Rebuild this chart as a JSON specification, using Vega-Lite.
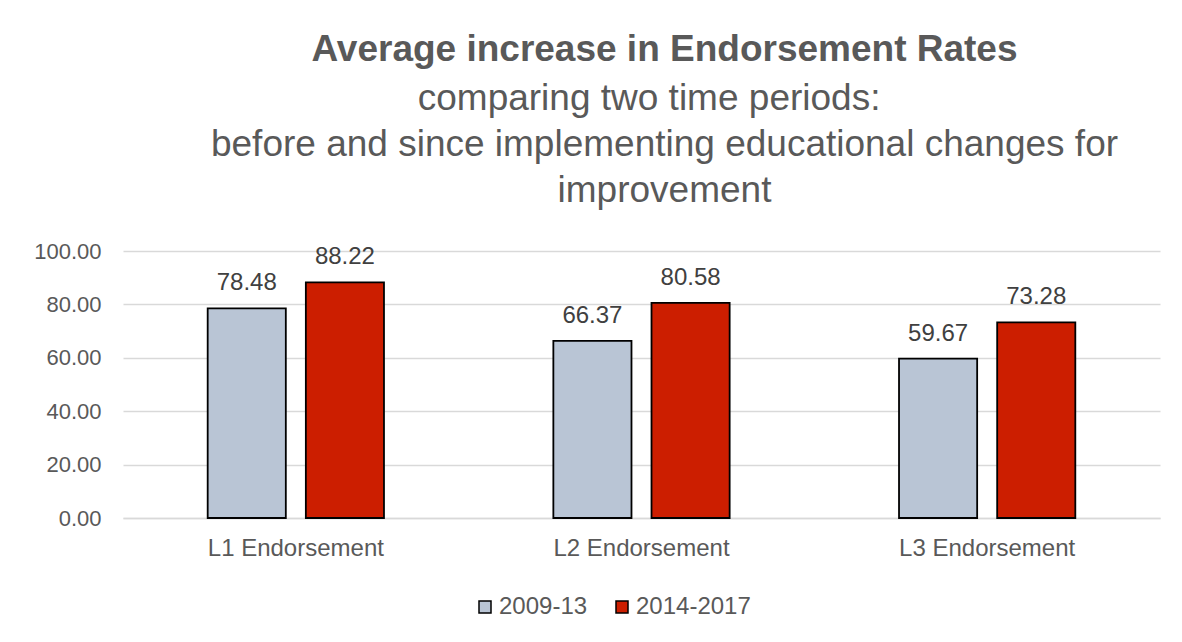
{
  "$schema": "https://vega.github.io/schema/vega-lite/v6.json",
  "width": 1037,
  "height": 267,
  "autosize": {"type": "none"},
  "padding": {"left": 123, "top": 251, "right": 22, "bottom": 124},
  "background": "white",
  "title": {
    "text": "Average increase in Endorsement Rates",
    "subtitle": ["comparing two time periods:\u00a0\u00a0\u00a0\u200b", "before and since implementing educational changes for", "improvement"],
    "anchor": "middle",
    "frame": "group",
    "dx": 23,
    "offset": 30,
    "font": "Liberation Sans",
    "fontSize": 37,
    "fontWeight": "bold",
    "color": "#595959",
    "subtitleFont": "Liberation Sans",
    "subtitleFontSize": 37,
    "subtitleColor": "#595959",
    "subtitleLineHeight": 46,
    "subtitlePadding": 12
  },
  "data": {
    "values": [
      {"category": "L1 Endorsement", "period": "2009-13", "value": 78.48},
      {"category": "L1 Endorsement", "period": "2014-2017", "value": 88.22},
      {"category": "L2 Endorsement", "period": "2009-13", "value": 66.37},
      {"category": "L2 Endorsement", "period": "2014-2017", "value": 80.58},
      {"category": "L3 Endorsement", "period": "2009-13", "value": 59.67},
      {"category": "L3 Endorsement", "period": "2014-2017", "value": 73.28}
    ]
  },
  "encoding": {
    "x": {
      "field": "category",
      "type": "nominal",
      "scale": {"paddingInner": 0.49, "paddingOuter": 0.245},
      "axis": {
        "title": null,
        "labelAngle": 0,
        "labelFont": "Liberation Sans",
        "labelFontSize": 24,
        "labelColor": "#595959",
        "labelPadding": 18,
        "ticks": false,
        "domainColor": "#D9D9D9",
        "domainWidth": 1.5,
        "grid": false
      }
    },
    "xOffset": {
      "field": "period",
      "type": "nominal",
      "scale": {"paddingInner": 0.204, "paddingOuter": 0}
    },
    "y": {
      "field": "value",
      "type": "quantitative",
      "scale": {"domain": [0, 100]},
      "axis": {
        "title": null,
        "values": [0, 20, 40, 60, 80, 100],
        "format": ".2f",
        "labelFont": "Liberation Sans",
        "labelFontSize": 22,
        "labelColor": "#595959",
        "labelPadding": 22,
        "ticks": false,
        "domain": false,
        "gridColor": "#D9D9D9",
        "gridWidth": 1.5
      }
    }
  },
  "layer": [
    {
      "mark": {"type": "bar", "stroke": "black", "strokeWidth": 1.8},
      "encoding": {
        "color": {
          "field": "period",
          "type": "nominal",
          "scale": {"domain": ["2009-13", "2014-2017"], "range": ["#B9C5D5", "#CC1E00"]},
          "legend": {
            "title": null,
            "orient": "none",
            "direction": "horizontal",
            "legendX": 350,
            "legendY": 344,
            "symbolType": "square",
            "symbolSize": 144,
            "symbolStrokeColor": "black",
            "symbolStrokeWidth": 1.5,
            "labelFont": "Liberation Sans",
            "labelFontSize": 24,
            "labelColor": "#595959",
            "labelOffset": 2,
            "columnPadding": 22
          }
        }
      }
    },
    {
      "mark": {"type": "text", "baseline": "alphabetic", "dy": -18, "font": "Liberation Sans", "fontSize": 24, "color": "#404040"},
      "encoding": {
        "text": {"field": "value", "type": "quantitative", "format": ".2f"}
      }
    }
  ],
  "config": {"view": {"stroke": null}}
}
